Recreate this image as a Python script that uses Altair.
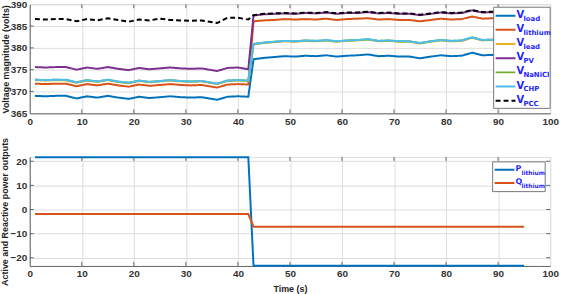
import altair as alt
import pandas as pd

# ---- time axis (s) ----
time_s = [1, 3, 5, 7, 9, 11, 13, 15, 17, 19, 21, 23, 25, 27, 29, 31, 33, 36, 38, 40, 42,
          43, 45, 47, 49, 51, 53, 55, 57, 59, 61, 63, 65, 67, 69, 71, 73, 75, 77, 79, 81,
          83, 85, 87, 89, 91, 93, 95]

# ---- bus voltages (V) ----
v_load = [369.0, 368.9, 369.0, 369.0, 368.4, 368.9, 368.6, 369.0, 368.6, 368.3, 368.8,
          368.5, 368.7, 368.9, 368.7, 368.6, 368.7, 368.1, 368.8, 368.9, 368.8,
          377.4, 377.7, 377.9, 378.1, 378.0, 378.2, 378.1, 378.3, 378.0, 378.2, 378.3,
          378.5, 378.1, 378.2, 378.0, 378.0, 377.6, 378.0, 378.3, 378.1, 378.2, 378.9,
          378.3, 378.4, 378.2, 378.3, 378.2]
v_lithium = [371.8, 371.7, 371.8, 371.8, 371.2, 371.7, 371.4, 371.8, 371.4, 371.1, 371.6,
             371.3, 371.5, 371.7, 371.5, 371.4, 371.5, 370.9, 371.6, 371.7, 371.6,
             386.1, 386.3, 386.4, 386.6, 386.5, 386.6, 386.5, 386.7, 386.4, 386.6, 386.7,
             386.8, 386.5, 386.6, 386.4, 386.4, 386.1, 386.4, 386.7, 386.5, 386.6, 387.2,
             386.7, 386.8, 386.6, 386.7, 386.6]
v_lead = [372.6, 372.5, 372.6, 372.6, 372.0, 372.5, 372.2, 372.6, 372.2, 371.9, 372.4,
          372.1, 372.3, 372.5, 372.3, 372.2, 372.3, 371.7, 372.4, 372.5, 372.4,
          380.8, 381.1, 381.3, 381.5, 381.4, 381.6, 381.5, 381.7, 381.4, 381.6, 381.7,
          381.9, 381.5, 381.6, 381.4, 381.4, 381.0, 381.4, 381.7, 381.5, 381.6, 382.3,
          381.7, 381.8, 381.6, 381.7, 381.6]
v_pv = [375.6, 375.5, 375.6, 375.6, 375.0, 375.5, 375.2, 375.6, 375.2, 374.9, 375.4,
        375.1, 375.3, 375.5, 375.3, 375.2, 375.3, 374.7, 375.4, 375.5, 375.1,
        387.4, 387.7, 387.8, 387.9, 387.8, 388.0, 387.9, 388.1, 387.8, 388.0, 388.0,
        388.2, 387.9, 388.0, 387.8, 387.8, 387.5, 387.8, 388.1, 387.9, 388.0, 388.6,
        388.1, 388.2, 388.0, 388.1, 388.0]
v_nanicl = [372.7, 372.6, 372.7, 372.6, 372.1, 372.6, 372.3, 372.7, 372.2, 372.0, 372.5,
            372.2, 372.4, 372.6, 372.4, 372.3, 372.4, 371.8, 372.5, 372.6, 372.5,
            380.9, 381.2, 381.4, 381.6, 381.5, 381.7, 381.6, 381.7, 381.5, 381.7, 381.8,
            382.0, 381.6, 381.7, 381.5, 381.5, 381.1, 381.5, 381.8, 381.6, 381.7, 382.4,
            381.8, 381.9, 381.7, 381.8, 381.7]
v_chp = [372.7, 372.6, 372.7, 372.7, 372.1, 372.6, 372.3, 372.7, 372.3, 372.0, 372.5,
         372.2, 372.4, 372.6, 372.4, 372.3, 372.4, 371.8, 372.5, 372.6, 372.5,
         380.9, 381.2, 381.4, 381.6, 381.5, 381.7, 381.6, 381.8, 381.5, 381.7, 381.8,
         382.0, 381.6, 381.7, 381.5, 381.5, 381.1, 381.5, 381.8, 381.6, 381.7, 382.4,
         381.8, 381.9, 381.7, 381.8, 381.7]
v_pcc = [386.6, 386.5, 386.6, 386.6, 386.1, 386.6, 386.3, 386.8, 386.4, 386.0, 386.5,
         386.3, 386.7, 386.4, 386.3, 386.2, 386.3, 385.7, 386.9, 386.9, 386.5,
         387.5, 387.8, 387.9, 388.0, 387.9, 388.1, 388.0, 388.2, 387.9, 388.1, 388.1,
         388.3, 388.0, 388.1, 387.9, 387.9, 387.6, 387.9, 388.2, 388.0, 388.1, 388.7,
         388.2, 388.3, 388.1, 388.2, 388.1]

# ---- lithium battery power outputs ----
power_time = [1, 42, 43, 95]
p_lithium = [21.7, 21.7, -23.3, -23.3]
q_lithium = [-1.9, -1.9, -7.1, -7.1]

# ---- axis ticks ----
x_ticks = [0, 10, 20, 30, 40, 50, 60, 70, 80, 90, 100]
v_ticks = [365, 370, 375, 380, 385, 390]
pq_ticks = [-20, -10, 0, 10, 20]

LABEL_FONT = "Liberation Sans"
TITLE_FONT = "Liberation Sans"
LEG_FONT = "DejaVu Sans"
LEG_BLUE = "#1f1fff"
W, H = 525, 110
V_DOM = [365, 390]
PQ_DOM = [-23.4, 21.8]

voltage_series = [
    ("V", "load", v_load, "#0072BD", [1, 0]),
    ("V", "lithium", v_lithium, "#D95319", [1, 0]),
    ("V", "lead", v_lead, "#EDB120", [1, 0]),
    ("V", "PV", v_pv, "#7E2F8E", [1, 0]),
    ("V", "NaNiCl", v_nanicl, "#77AC30", [1, 0]),
    ("V", "CHP", v_chp, "#4DBEEE", [1, 0]),
    ("V", "PCC", v_pcc, "black", [5, 3]),
]
power_series = [
    ("P", "lithium", p_lithium, "#0072BD", [1, 0]),
    ("Q", "lithium", q_lithium, "#D95319", [1, 0]),
]


def axis(values, title, label_pad, title_pad):
    return alt.Axis(values=values, title=title, ticks=False, tickSize=0,
                    labelOverlap=False, labelFlush=False, labelPadding=label_pad,
                    titlePadding=title_pad, labelFont=LABEL_FONT, labelFontWeight="bold",
                    labelFontSize=10, labelColor="#333", domainColor="#666",
                    titleFont=TITLE_FONT, titleFontWeight="bold", titleFontSize=9,
                    titleColor="#222")


def inner_ticks(xt, yt, xenc, yenc, h):
    """MATLAB-style inward tick marks on all four sides."""
    xdf = pd.DataFrame({"t": xt[1:-1]})
    ydf = pd.DataFrame({"v": yt})
    style = dict(color="#666", strokeWidth=1)
    return [
        alt.Chart(xdf).mark_rule(**style).encode(x=xenc, y=alt.value(0), y2=alt.value(4)),
        alt.Chart(xdf).mark_rule(**style).encode(x=xenc, y=alt.value(h - 4), y2=alt.value(h)),
        alt.Chart(ydf).mark_rule(**style).encode(y=yenc, x=alt.value(0), x2=alt.value(4)),
        alt.Chart(ydf).mark_rule(**style).encode(y=yenc, x=alt.value(W - 4), x2=alt.value(W)),
    ]


def legend_layers(series, box, top, step, fs_main, fs_sub, sub_dx):
    """Boxed legend with subscripted entry names."""
    x0, x1, y0, y1 = box
    one = pd.DataFrame({"k": [0]})
    layers = [
        alt.Chart(one).mark_rect(fill="white", stroke="#777", strokeWidth=1)
        .encode(x=alt.value(x0), x2=alt.value(x1), y=alt.value(y0), y2=alt.value(y1))
    ]
    for i, (m, s, vals, col, dash) in enumerate(series):
        ly = top + i * step
        layers.append(
            alt.Chart(one).mark_rule(strokeWidth=2, color=col, strokeDash=dash)
            .encode(x=alt.value(x0 + 2), x2=alt.value(x0 + 22), y=alt.value(ly))
        )
        layers.append(
            alt.Chart(one).mark_text(text=m, align="left", baseline="middle", font=LEG_FONT,
                                     fontWeight="bold", fontSize=fs_main, color=LEG_BLUE)
            .encode(x=alt.value(x0 + 23), y=alt.value(ly - 1))
        )
        layers.append(
            alt.Chart(one).mark_text(text=s, align="left", baseline="middle", font=LEG_FONT,
                                     fontWeight="bold", fontSize=fs_sub, color=LEG_BLUE)
            .encode(x=alt.value(x0 + 23 + sub_dx), y=alt.value(ly + 3))
        )
    return layers


# ---- top panel: voltage magnitudes ----
xv = alt.X("t:Q", scale=alt.Scale(domain=[0, 100], nice=False), axis=axis(x_ticks, None, 3, 2))
yv = alt.Y("v:Q", scale=alt.Scale(domain=V_DOM, nice=False, zero=False),
           axis=axis(v_ticks, "Voltage magnitude (volts)", 3, 0))
v_layers = [
    alt.Chart(pd.DataFrame({"t": time_s, "v": vals}))
    .mark_line(color=col, strokeWidth=2, strokeDash=dash)
    .encode(x=xv, y=yv)
    for (m, s, vals, col, dash) in voltage_series
]

top = alt.layer(
    *v_layers,
    *inner_ticks(x_ticks, v_ticks[1:-1], xv, yv, H),
    *legend_layers(voltage_series, (468, W, 3, 105), 11.5, 14.3, 10, 7, 7),
).properties(width=W, height=H)

# ---- bottom panel: active / reactive power ----
xp = alt.X("t:Q", scale=alt.Scale(domain=[0, 100], nice=False),
           axis=axis(x_ticks, "Time (s)", 3, 6))
yp = alt.Y("v:Q", scale=alt.Scale(domain=PQ_DOM, nice=False, zero=False),
           axis=axis(pq_ticks, "Active and Reactive power outputs", 3, 0))
p_layers = [
    alt.Chart(pd.DataFrame({"t": power_time, "v": vals}))
    .mark_line(color=col, strokeWidth=2, clip=False)
    .encode(x=xp, y=yp)
    for (m, s, vals, col, dash) in power_series
]

bottom = alt.layer(
    *p_layers,
    *inner_ticks(x_ticks, pq_ticks, xp, yp, H),
    *legend_layers(power_series, (467, 520, 5, 35), 13, 13.3, 8, 6, 6),
).properties(width=W, height=H)

chart = (
    alt.vconcat(top, bottom, spacing=9)
    .properties(padding={"left": 0, "top": -3, "right": 8, "bottom": 0})
    .configure_view(stroke="#888", strokeWidth=1)
    .configure(background="white")
)

chart.save("out.html", embed_options={"renderer": "svg", "actions": False})
